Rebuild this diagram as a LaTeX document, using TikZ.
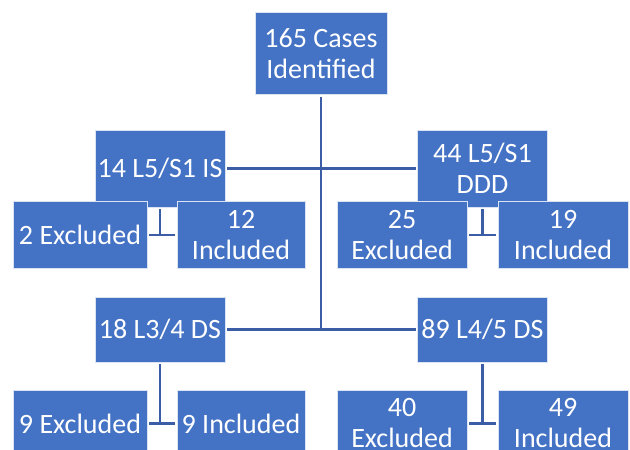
\documentclass[tikz,border=0pt]{standalone}
\usepackage{fontspec}
\setmainfont{Carlito}
\usetikzlibrary{positioning, calc}

\definecolor{boxblue}{HTML}{4472C4}
\definecolor{lineblue}{HTML}{3A5DA6}

\begin{document}
\begin{tikzpicture}[
    x=1pt, y=-1pt,
    every node/.style={font=\fontsize{28}{31}\selectfont, text=white},
    casebox/.style={
        rectangle,
        draw=white!80!boxblue,
        fill=boxblue,
        line width=0.8pt,
        minimum width=130pt,
        minimum height=77pt,
        inner sep=1pt,
        outer sep=2pt,
        align=center
    },
    splitbox/.style={
        casebox,
        minimum height=65pt
    },
    resultbox/.style={
        casebox,
        minimum height=67pt
    },
    link/.style={
        draw=lineblue,
        line width=2.4pt
    }
]
\useasboundingbox (0,0) rectangle (630,450);

% Top
\node[casebox, minimum width=132pt, minimum height=82pt] (total) at (321,53.5) {165 Cases\\Identified};

% L5/S1 level
\node[casebox] (is) at (160,168.5) {14 L5/S1 IS};
\node[casebox] (ddd) at (482.5,168.5) {44 L5/S1\\DDD};
\node[resultbox, minimum width=134pt] (isex) at (80,235) {2 Excluded};
\node[resultbox, minimum width=128pt] (isin) at (241,235) {12\\Included};
\node[resultbox] (dddex) at (402,235) {25\\Excluded};
\node[resultbox] (dddin) at (563,235) {19\\Included};

% DS level
\node[splitbox] (dsa) at (160,329.5) {18 L3/4 DS};
\node[splitbox] (dsb) at (482.5,329.5) {89 L4/5 DS};
\node[resultbox, minimum width=134pt] (dsaex) at (80,423.5) {9 Excluded};
\node[resultbox, minimum width=128pt] (dsain) at (241,423.5) {9 Included};
\node[resultbox] (dsbex) at (402,423.5) {40\\Excluded};
\node[resultbox] (dsbin) at (563,423.5) {49\\Included};

% Trunk and branches
\coordinate (trunkend) at (total.south |- dsa.east);
\draw[link] (total.south) -- (trunkend);
\draw[link] (is.east) -- (ddd.west);
\draw[link] (dsa.east) -- (dsb.west);

% Splits into excluded / included
\coordinate (isjoin) at (is.south |- isex.east);
\coordinate (dddjoin) at (ddd.south |- dddex.east);
\coordinate (dsajoin) at (dsa.south |- dsaex.east);
\coordinate (dsbjoin) at (dsb.south |- dsbex.east);
\draw[link] (is.south) -- (isjoin);
\draw[link] (isex.east) -- (isin.west);
\draw[link] (ddd.south) -- (dddjoin);
\draw[link] (dddex.east) -- (dddin.west);
\draw[link] (dsa.south) -- (dsajoin);
\draw[link] (dsaex.east) -- (dsain.west);
\draw[link] (dsb.south) -- (dsbjoin);
\draw[link] (dsbex.east) -- (dsbin.west);

\end{tikzpicture}
\end{document}
